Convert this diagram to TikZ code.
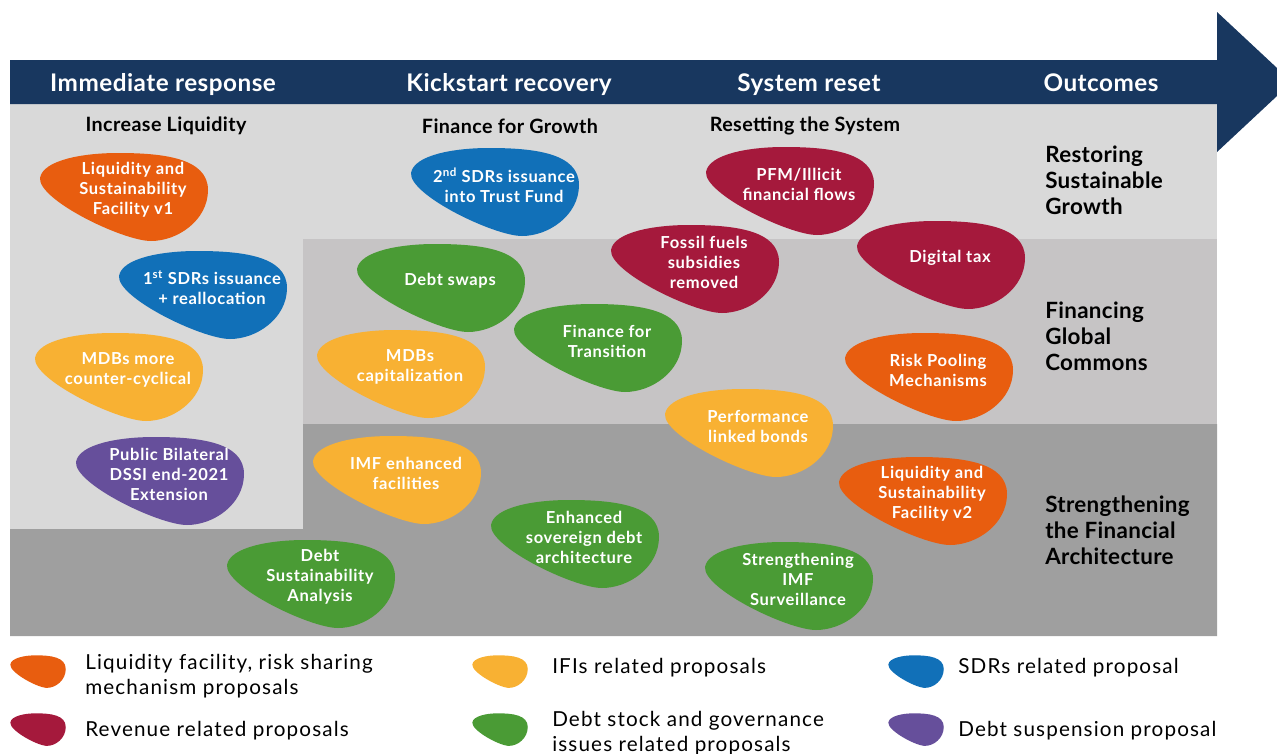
\documentclass[tikz,border=0pt]{standalone}
\usepackage{fontspec}
\setmainfont{Lato}

\definecolor{navy}{HTML}{18375F}
\definecolor{lightgray}{HTML}{D9D9D9}
\definecolor{midgray}{HTML}{C6C4C5}
\definecolor{darkgray}{HTML}{9F9F9F}
\definecolor{liqorange}{HTML}{E85D0F}
\definecolor{revred}{HTML}{A5193C}
\definecolor{sdrblue}{HTML}{1170B8}
\definecolor{ifiyellow}{HTML}{F8B133}
\definecolor{debtgreen}{HTML}{4A9B35}
\definecolor{dsspurple}{HTML}{664F9B}

\tikzset{
  header/.style={text=white, inner sep=0pt, font=\fontsize{18.2}{21}\selectfont\bfseries\addfontfeature{LetterSpace=2}},
  subhead/.style={inner sep=0pt, font=\fontsize{14.8}{17}\selectfont\bfseries\addfontfeature{LetterSpace=2}},
  outcome/.style={anchor=west, align=left, inner sep=0pt, font=\fontsize{16.8}{19.5}\selectfont\bfseries\addfontfeature{LetterSpace=1.5}},
  blobtext/.style={text=white, align=center, inner sep=0pt, font=\fontsize{12.4}{15}\selectfont\bfseries\addfontfeature{LetterSpace=4}},
  legtext/.style={anchor=west, align=left, inner sep=0pt, font=\fontsize{15.5}{18.5}\selectfont\addfontfeature{LetterSpace=5.5}}
}

% outline of one proposal blob, centred on its text
\newcommand{\blobpath}{(-93,-12) .. controls (-90,-30) and (-50,-37) .. (-15,-37)
  .. controls (30,-37) and (75,-32) .. (75,0)
  .. controls (75,30) and (45,51) .. (18,51)
  .. controls (-10,51) and (-95,10) .. (-93,-12) -- cycle}

% \blob{name}{position}{colour}{text}
\newcommand{\blob}[4]{%
  \begin{scope}[shift={(#2)}]
    \fill[#3] \blobpath;
    \node[blobtext] (#1) at (0,0) {#4};
  \end{scope}}

% \legblob{position}{colour}
\newcommand{\legblob}[2]{%
  \begin{scope}[shift={(#1)}, xscale=0.33, yscale=0.37]
    \fill[#2] \blobpath;
  \end{scope}}

\begin{document}
\begin{tikzpicture}[x=0.75pt, y=-0.75pt]
  \useasboundingbox (0,0) rectangle (1277,753);

  % Background bands
  \fill[lightgray] (10,104) rectangle (1217,239);
  \fill[lightgray] (10,239) rectangle (303,529);
  \fill[midgray] (303,239) rectangle (1217,424);
  \fill[darkgray] (303,424) -- (1217,424) -- (1217,636) -- (10,636) -- (10,529) -- (303,529) -- cycle;

  % Timeline arrow
  \fill[navy] (10,60) -- (1217,60) -- (1217,12) -- (1292,82) -- (1217,152) -- (1217,104) -- (10,104) -- cycle;
  \node[header] (immediate) at (163,85) {Immediate response};
  \node[header] (kickstart) at (509,85) {Kickstart recovery};
  \node[header] (reset) at (809,85) {System reset};
  \node[header] (outcomes) at (1101,83) {Outcomes};

  % Column titles
  \node[subhead] (liquidity) at (166,126) {Increase Liquidity};
  \node[subhead] (growth) at (510,126) {Finance for Growth};
  \node[subhead] (resetting) at (805,126) {Resetting the System};

  % Outcomes
  \node[outcome] (restoring) at (1045,180) {Restoring\\Sustainable\\Growth};
  \node[outcome] (commons) at (1045,336) {Financing\\Global\\Commons};
  \node[outcome] (architecture) at (1045,530) {Strengthening\\the Financial\\Architecture};

  % Immediate response
  \blob{lsfone}{133,190}{liqorange}{Liquidity and\\Sustainability\\Facility v1}
  \blob{sdrone}{212,288}{sdrblue}{1\textsuperscript{st} SDRs issuance\\+ reallocation}
  \blob{mdbcycle}{128,370}{ifiyellow}{MDBs more\\counter-cyclical}
  \blob{dssi}{169,474}{dsspurple}{Public Bilateral\\DSSI end-2021\\Extension}
  \blob{dsa}{320,577}{debtgreen}{Debt\\Sustainability\\Analysis}

  % Kickstart recovery
  \blob{sdrtwo}{504,185}{sdrblue}{2\textsuperscript{nd} SDRs issuance\\into Trust Fund}
  \blob{swaps}{450,281}{debtgreen}{Debt swaps}
  \blob{mdbcap}{410,367}{ifiyellow}{MDBs\\capitalization}
  \blob{transition}{607,341}{debtgreen}{Finance for\\Transition}
  \blob{imffac}{406,473}{ifiyellow}{IMF enhanced\\facilities}
  \blob{sovereign}{584,537}{debtgreen}{Enhanced\\sovereign debt\\architecture}

  % System reset
  \blob{pfm}{799,184}{revred}{PFM/Illicit\\financial flows}
  \blob{fossil}{704,262}{revred}{Fossil fuels\\subsidies\\removed}
  \blob{digital}{950,258}{revred}{Digital tax}
  \blob{pooling}{938,370}{liqorange}{Risk Pooling\\Mechanisms}
  \blob{bonds}{758,426}{ifiyellow}{Performance\\linked bonds}
  \blob{lsftwo}{932,494}{liqorange}{Liquidity and\\Sustainability\\Facility v2}
  \blob{surveillance}{798,579}{debtgreen}{Strengthening\\IMF\\Surveillance}

  % Legend
  \legblob{41,669}{liqorange}
  \legblob{41,727}{revred}
  \legblob{503,669}{ifiyellow}
  \legblob{503,727}{debtgreen}
  \legblob{919,669}{sdrblue}
  \legblob{919,727}{dsspurple}
  \node[legtext] (legliq) at (85,676) {Liquidity facility, risk sharing\\mechanism proposals};
  \node[legtext] (legrev) at (85,731) {Revenue related proposals};
  \node[legtext] (legifi) at (552,668) {IFIs related proposals};
  \node[legtext] (legdebt) at (552,733) {Debt stock and governance\\issues related proposals};
  \node[legtext] (legsdr) at (958,668) {SDRs related proposal};
  \node[legtext] (legdss) at (958,731) {Debt suspension proposal};
\end{tikzpicture}
\end{document}
